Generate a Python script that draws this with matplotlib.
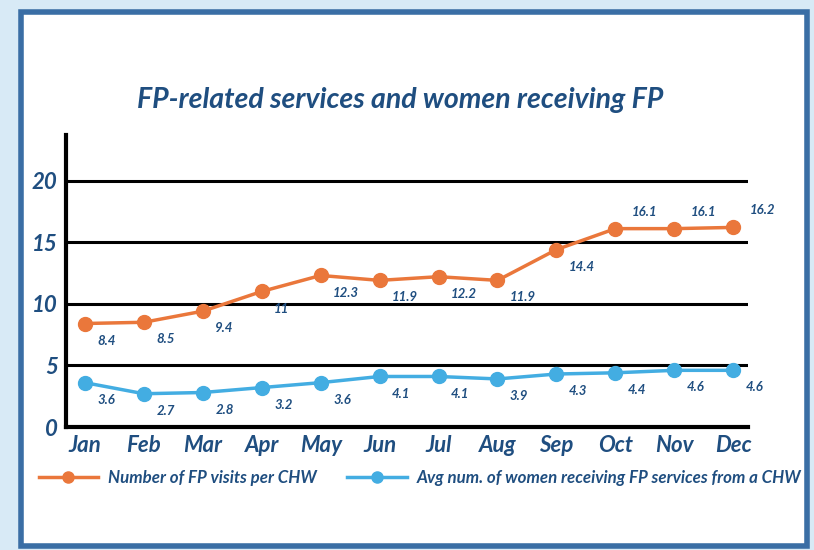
import matplotlib.pyplot as plt
from matplotlib.patches import Rectangle

months = ['Jan', 'Feb', 'Mar', 'Apr', 'May', 'Jun', 'Jul', 'Aug', 'Sep', 'Oct', 'Nov', 'Dec']
fp_visits = [8.4, 8.5, 9.4, 11, 12.3, 11.9, 12.2, 11.9, 14.4, 16.1, 16.1, 16.2]
women_fp = [3.6, 2.7, 2.8, 3.2, 3.6, 4.1, 4.1, 3.9, 4.3, 4.4, 4.6, 4.6]
y_ticks = [0, 5, 10, 15, 20]

navy = '#1f4e80'
orange = '#ea773b'
blue = '#43ade2'
font = dict(family=['Lato', 'DejaVu Sans'], weight='bold', style='italic')

fig = plt.figure(figsize=(8.14, 5.5), dpi=100)
fig.patch.set_facecolor('#d8eaf6')
# white panel with blue frame
fig.patches.append(Rectangle((21 / 814, 4 / 550), 786 / 814, 534 / 550, transform=fig.transFigure,
                             facecolor='white', edgecolor='#3a6ea5', linewidth=4, zorder=-1))

ax = fig.add_axes([66 / 814, 1 - 427 / 550, 682 / 814, 292 / 550])
ax.set_zorder(2)
ax.set_facecolor('none')
x = list(range(len(months)))

ax.plot(x, fp_visits, color=orange, lw=2.5, marker='o', ms=10, zorder=4,
        label='Number of FP visits per CHW')
ax.plot(x, women_fp, color=blue, lw=2.5, marker='o', ms=10, zorder=4,
        label='Avg num. of women receiving FP services from a CHW')

for i, v in enumerate(fp_visits):
    if i >= 9:
        off, va = (12, 8), 'bottom'
    else:
        off, va = (9, -8), 'top'
    ax.annotate(f'{v:g}', (i, v), textcoords='offset points', xytext=off,
                ha='left', va=va, color=navy, fontsize=9.5, **font)
for i, v in enumerate(women_fp):
    ax.annotate(f'{v:g}', (i, v), textcoords='offset points', xytext=(9, -8),
                ha='left', va='top', color=navy, fontsize=9.5, **font)

for t in y_ticks[1:]:
    ax.axhline(t, color='black', lw=2.2, zorder=2)

ax.set_xlim(-0.32, 11.25)
ax.set_ylim(0, 23.7)
ax.set_yticks(y_ticks)
ax.set_xticks(x)
ax.set_xticklabels(months)
ax.tick_params(length=0, pad=6)
for lab in ax.get_xticklabels() + ax.get_yticklabels():
    lab.set_color(navy)
    lab.set_fontsize(16)
    lab.set_fontweight('bold')
    lab.set_fontstyle('italic')
    lab.set_family(['Lato', 'DejaVu Sans'])
for s in ['top', 'right']:
    ax.spines[s].set_visible(False)
ax.spines['left'].set_linewidth(3)
ax.spines['bottom'].set_linewidth(3)

fig.text(400 / 814, 1 - 100 / 550, 'FP-related services and women receiving FP',
         ha='center', va='center', color=navy, fontsize=20.5, **font)

leg = fig.legend(loc='center', bbox_to_anchor=(420 / 814, 1 - 478 / 550), ncol=2,
                 frameon=False, handlelength=3.5, columnspacing=1.8, handletextpad=0.6,
                 prop=dict(family=['Lato', 'DejaVu Sans'], weight='bold', style='italic', size=12.2))
for t in leg.get_texts():
    t.set_color(navy)
for h in leg.legend_handles:
    h.set_markersize(8)

fig.savefig('out.png', dpi=100, facecolor=fig.get_facecolor())
